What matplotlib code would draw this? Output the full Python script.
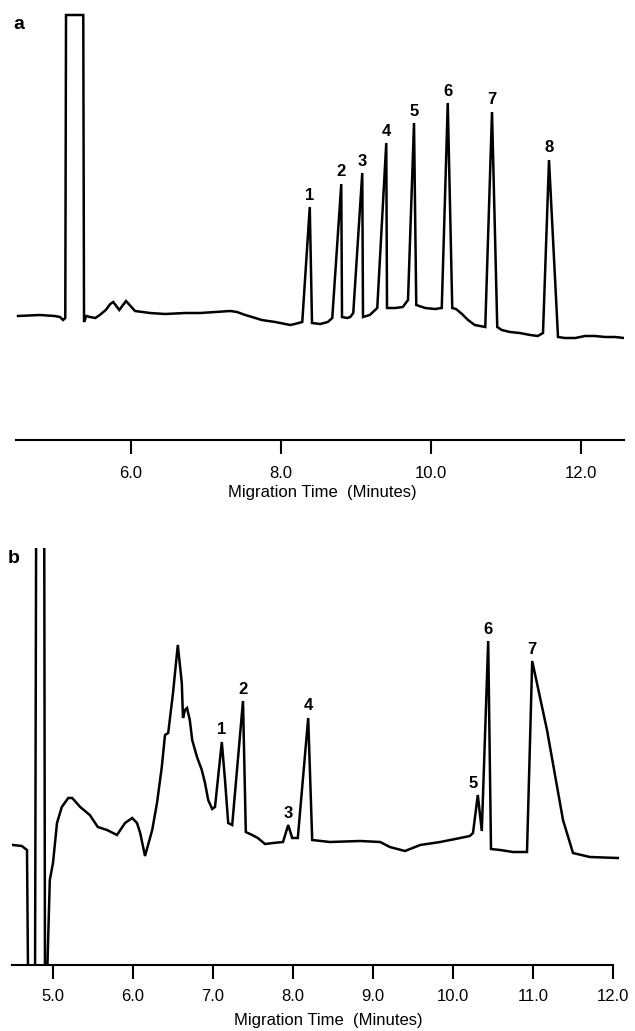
import matplotlib
matplotlib.use("Agg")
import matplotlib.pyplot as plt

plt.rcParams['font.family'] = ['Liberation Sans', 'DejaVu Sans']

# ---------------- Panel a data (time in min, signal in arbitrary units) -------------
time_a = [4.50, 4.79, 4.99, 5.06, 5.10, 5.13, 5.14, 5.37, 5.38, 5.41, 5.46, 5.53,
          5.59, 5.67, 5.73, 5.77, 5.85, 5.90, 5.94, 6.00, 6.06, 6.26, 6.46, 6.73,
          6.93, 7.13, 7.33, 7.42, 7.53, 7.62, 7.75, 7.93, 8.13, 8.19, 8.29, 8.39,
          8.42, 8.53, 8.63, 8.69, 8.81, 8.82, 8.89, 8.93, 8.97, 9.09, 9.10, 9.19,
          9.29, 9.41, 9.42, 9.53, 9.63, 9.70, 9.78, 9.81, 9.93, 10.06, 10.15, 10.23,
          10.29, 10.34, 10.42, 10.50, 10.59, 10.66, 10.73, 10.82, 10.89, 10.95, 11.06,
          11.19, 11.33, 11.43, 11.50, 11.58, 11.70, 11.79, 11.93, 12.06, 12.19, 12.33,
          12.46, 12.58]
signal_a = [124, 125, 124, 123, 120, 122, 425, 425, 118, 124, 123, 122,
            125, 130, 136, 138, 130, 135, 139, 134, 129, 127, 126, 127,
            127, 128, 129, 128, 125, 123, 120, 118, 115, 116, 118, 233,
            117, 116, 118, 122, 256, 123, 122, 123, 127, 267, 123, 125,
            132, 297, 132, 132, 133, 140, 317, 135, 132, 131, 132, 337,
            132, 131, 126, 120, 115, 114, 113, 328, 113, 110, 108,
            107, 105, 104, 107, 280, 103, 102, 102, 104, 104, 103,
            103, 102]
peak_labels_a = ['1', '2', '3', '4', '5', '6', '7', '8']
peak_times_a = [8.39, 8.81, 9.09, 9.41, 9.78, 10.23, 10.82, 11.58]
peak_heights_a = [233, 256, 267, 297, 317, 337, 328, 280]
ticks_a = [6.0, 8.0, 10.0, 12.0]
tick_labels_a = ['6.0', '8.0', '10.0', '12.0']

# ---------------- Panel b data -------------
time_b = [4.50, 4.61, 4.675, 4.69, 4.775, 4.79, 4.89, 4.90, 4.92, 4.96, 5.00, 5.05,
          5.11, 5.19, 5.24, 5.34, 5.46, 5.56, 5.675, 5.80, 5.90, 5.99, 6.05, 6.09,
          6.15, 6.24, 6.30, 6.36, 6.40, 6.44, 6.50, 6.56, 6.61, 6.625, 6.65, 6.675,
          6.71, 6.74, 6.80, 6.86, 6.90, 6.94, 6.99, 7.025, 7.11, 7.15, 7.19, 7.24,
          7.375, 7.41, 7.49, 7.56, 7.65, 7.75, 7.875, 7.94, 7.99, 8.06, 8.19, 8.24,
          8.46, 8.84, 9.09, 9.21, 9.40, 9.59, 9.84, 10.09, 10.21, 10.25, 10.31, 10.36,
          10.44, 10.475, 10.59, 10.75, 10.925, 10.99, 11.175, 11.375, 11.50, 11.71, 12.06]
signal_b = [120, 119, 115, -30, -30, 460, 460, -30, -30, 85, 102, 142,
            158, 167, 167, 158, 150, 138, 135, 130, 142, 147, 142, 132,
            109, 135, 162, 198, 230, 232, 272, 320, 282, 247, 255, 257,
            245, 225, 208, 195, 182, 165, 156, 158, 223, 185, 142, 140,
            264, 133, 130, 127, 121, 122, 123, 140, 127, 127, 247, 125,
            123, 124, 123, 118, 114, 120, 123, 127, 129, 132, 170, 134,
            324, 116, 115, 113, 113, 304, 235, 145, 112, 108, 107]
peak_labels_b = ['1', '2', '3', '4', '5', '6', '7']
peak_times_b = [7.11, 7.375, 7.94, 8.19, 10.31, 10.44, 10.99]
peak_heights_b = [223, 264, 140, 247, 170, 324, 304]
ticks_b = [5.0, 6.0, 7.0, 8.0, 9.0, 10.0, 11.0, 12.0]
tick_labels_b = ['5.0', '6.0', '7.0', '8.0', '9.0', '10.0', '11.0', '12.0']

xlabel = 'Migration Time  (Minutes)'

W, H = 635, 1031
fig = plt.figure(figsize=(W / 100, H / 100), dpi=100)


def px_rect(left, right, top, bottom):
    return [left / W, 1 - bottom / H, (right - left) / W, (bottom - top) / H]


def style_axis(ax, ticks, labels, pad):
    for s in ['left', 'right', 'top']:
        ax.spines[s].set_visible(False)
    ax.spines['bottom'].set_linewidth(1.5)
    ax.set_yticks([])
    ax.set_xticks(ticks)
    ax.set_xticklabels(labels)
    ax.tick_params(axis='x', direction='out', length=10, width=1.5,
                   labelsize=12, pad=pad, colors='black')


# Panel a
axA = fig.add_axes(px_rect(16, 624, 10, 440))
axA.plot(time_a, signal_a, color='black', lw=1.8, solid_joinstyle='miter')
axA.set_xlim(4.473, 12.58)
axA.set_ylim(0, 430)
style_axis(axA, ticks_a, tick_labels_a, pad=9)
for lab, t, h in zip(peak_labels_a, peak_times_a, peak_heights_a):
    axA.text(t, h + 12, lab, ha='center', va='center', fontsize=12, fontweight='bold')

# Panel b
axB = fig.add_axes(px_rect(12, 620, 548, 965))
axB.plot(time_b, signal_b, color='black', lw=1.8, solid_joinstyle='miter')
axB.set_xlim(4.4875, 12.0875)
axB.set_ylim(0, 417)
style_axis(axB, ticks_b, tick_labels_b, pad=7)
axB.spines['bottom'].set_bounds(4.4875, 12.0)
offsets_b = [0, 0, 0, 0, -0.06, 0, 0]
for lab, t, h, dx in zip(peak_labels_b, peak_times_b, peak_heights_b, offsets_b):
    axB.text(t + dx, h + 12, lab, ha='center', va='center', fontsize=12, fontweight='bold')

# Axis titles and panel letters
fig.text(322 / W, 1 - 493 / H, xlabel, ha='center', va='center', fontsize=12)
fig.text(328 / W, 1 - 1020 / H, xlabel, ha='center', va='center', fontsize=12)
fig.text(13 / W, 1 - 29 / H, 'a', ha='left', va='baseline', fontsize=14, fontweight='bold')
fig.text(8 / W, 1 - 563 / H, 'b', ha='left', va='baseline', fontsize=14, fontweight='bold')

fig.savefig('out.png', dpi=100, facecolor='white')
